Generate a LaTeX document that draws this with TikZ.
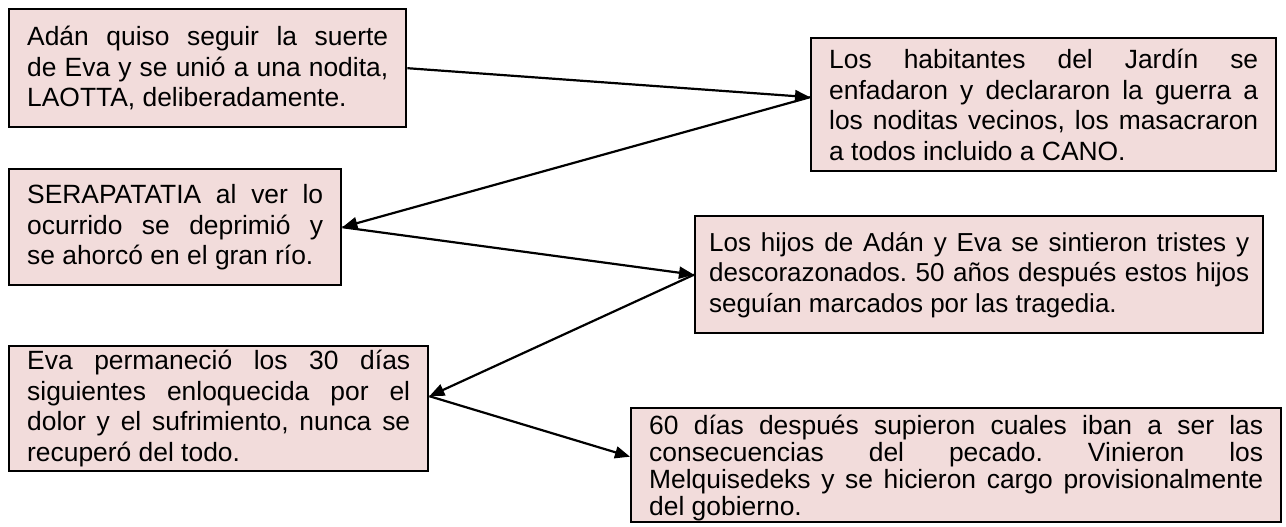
\documentclass[tikz,border=0pt]{standalone}
\usepackage{fontspec}
\setmainfont{Liberation Sans}
\usetikzlibrary{arrows.meta}
\hyphenpenalty=10000
\exhyphenpenalty=10000
\frenchspacing
\definecolor{boxpink}{HTML}{F2DCDB}

\tikzstyle{every node}=[rectangle, draw, fill=boxpink, line width=2.4pt,
  anchor=north west, inner xsep=18pt, inner ysep=0pt, align=justify,
  font=\fontsize{26.4}{30.5}\selectfont]
\tikzstyle{link}=[line width=2.2pt, -{Triangle[length=15pt,width=12pt]}]

\begin{document}
\begin{tikzpicture}[x=1pt, y=-1pt]
    \useasboundingbox (0,0) rectangle (1286,527);

    \path (8,8) node[text width=361pt, minimum height=118pt] (b1)
      {Adán quiso seguir la suerte\linebreak de Eva y se unió a una nodita,\linebreak LAOTTA, deliberadamente.};
    \path (810,37) node[text width=429pt, minimum height=133pt] (b2)
      {Los habitantes del Jardín se\linebreak enfadaron y declararon la guerra a\linebreak los noditas vecinos, los masacraron\linebreak a todos incluido a CANO.};
    \path (8,168) node[text width=296pt, minimum height=116pt] (b3)
      {SERAPATATIA al ver lo\linebreak ocurrido se deprimió y\linebreak se ahorcó en el gran río.};
    \path (694,215) node[text width=540pt, inner xsep=14pt, minimum height=117pt,
        font=\fontsize{26}{30.5}\selectfont] (b4)
      {Los hijos de Adán y Eva se sintieron tristes y\linebreak descorazonados. 50 años después estos hijos\linebreak seguían marcados por las tragedia.};
    \path (8,345) node[text width=383pt, minimum height=125pt] (b5)
      {Eva permaneció los 30 días\linebreak siguientes enloquecida por el\linebreak dolor y el sufrimiento, nunca se\linebreak recuperó del todo.};
    \path (630,407) node[text width=614pt, minimum height=114pt,
        font=\fontsize{26.4}{27}\selectfont] (b6)
      {\rule{0pt}{25pt}60 días después supieron cuales iban a ser las\linebreak consecuencias del pecado. Vinieron los\linebreak Melquisedeks y se hicieron cargo provisionalmente\linebreak del gobierno.};

    \draw[link] (b1.east) -- ([yshift=7.5pt]b2.west);
    \draw[link] ([yshift=7.5pt]b2.west) -- (b3.east);
    \draw[link] (b3.east) -- (b4.west);
    \draw[link] (b4.west) -- ([yshift=12.5pt]b5.east);
    \draw[link] ([yshift=12.5pt]b5.east) -- ([yshift=8.5pt]b6.west);
\end{tikzpicture}
\end{document}
